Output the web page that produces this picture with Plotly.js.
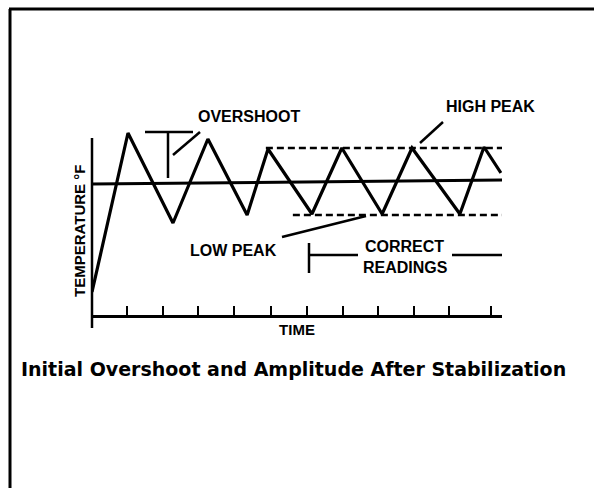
<!DOCTYPE html>
<html>
<head>
<meta charset="utf-8">
<script src="https://cdn.plot.ly/plotly-3.0.1.min.js"></script>
<style>html,body{margin:0;padding:0;background:#fff;}#chart{width:594px;height:488px;}</style>
</head>
<body>
<div id="chart"></div>
<script>
// ---- data (time in tick units, temperature in arbitrary degrees) ----
const timeValues = [0, 1.0, 2.25, 3.22, 4.31, 4.89, 6.11, 6.94, 8.06, 8.89, 10.22, 10.89, 11.36];
const tempValues = [23, 182, 92, 176, 100, 166, 101, 167, 101, 167, 101, 168, 142];
const setpointTime = [0, 11.39];
const setpointTemp = [131, 135];
const highPeakTime = [4.83, 11.39];
const highPeakTemp = [167, 167];
const lowPeakTime = [5.58, 11.39];
const lowPeakTemp = [100, 100];
const tickTimes = [0.97, 1.97, 2.94, 3.94, 4.97, 5.97, 6.97, 7.94, 8.94, 9.92, 11.08];
const xTitle = 'TIME';
const yTitle = 'TEMPERATURE °F';
const caption = 'Initial Overshoot and Amplitude After Stabilization';
const labels = ['OVERSHOOT', 'HIGH PEAK', 'LOW PEAK', 'CORRECT', 'READINGS'];

// ---- layout geometry ----
const W = 594, H = 488;
const L = 92, R = 502, T = 125, B = 315;
const PX = p => (p - L) / (R - L);
const PY = p => (B - p) / (B - T);
const ink = '#000';
const labelFont = {family: 'Liberation Sans, Arial, sans-serif', size: 16, color: ink};

const traces = [
  {x: setpointTime, y: setpointTemp, mode: 'lines', line: {color: ink, width: 3}, hoverinfo: 'skip'},
  {x: highPeakTime, y: highPeakTemp, mode: 'lines', line: {color: ink, width: 2.5, dash: '7px,4px'}, hoverinfo: 'skip'},
  {x: lowPeakTime, y: lowPeakTemp, mode: 'lines', line: {color: ink, width: 2.5, dash: '7px,4px'}, hoverinfo: 'skip'},
  {x: timeValues, y: tempValues, mode: 'lines', line: {color: ink, width: 3.2}, hoverinfo: 'skip'}
];

function seg(x0, y0, x1, y1, w) {
  return {type: 'line', xref: 'paper', yref: 'paper', x0: PX(x0), y0: PY(y0), x1: PX(x1), y1: PY(y1),
          line: {color: ink, width: w || 2.5}};
}

const shapes = [
  seg(9, 9, 594, 9, 3),          // frame top
  seg(10, 9, 10, 488, 3),        // frame left
  seg(92, 138, 92, 328, 2.5),    // y-axis line (extends below origin)
  seg(145, 132, 193, 132, 2.5),  // overshoot bar
  seg(168, 132, 168, 178, 2.5),  // overshoot vertical
  seg(200, 132, 173, 155, 2.5),  // overshoot leader
  seg(443, 122, 420, 143, 2.5),  // high peak leader
  seg(282, 237, 366, 216, 2.5),  // low peak leader
  seg(309, 243, 309, 273, 2.5),  // correct readings bracket
  seg(309, 255, 358, 255, 2.5),
  seg(452, 255, 502, 255, 2.5)
];

function ann(text, cx, cy, font, angle) {
  return {text: '<b>' + text + '</b>', xref: 'paper', yref: 'paper', x: PX(cx), y: PY(cy),
          xanchor: 'center', yanchor: 'middle', showarrow: false, font: font || labelFont,
          textangle: angle || 0};
}

const annotations = [
  ann(labels[0], 248.5, 116.5),
  ann(labels[1], 490.5, 106.5),
  ann(labels[2], 233, 250.5),
  ann(labels[3], 404, 246),
  ann(labels[4], 405.5, 267.5),
  ann(yTitle, 79, 231, Object.assign({}, labelFont, {size: 15}), -90),
  ann(caption, 293, 368.5, {family: 'DejaVu Sans, sans-serif', size: 19, color: ink})
];

const layout = {
  width: W, height: H,
  margin: {l: L, r: W - R, t: T, b: H - B, pad: 0},
  paper_bgcolor: '#fff', plot_bgcolor: '#fff',
  showlegend: false,
  xaxis: {
    range: [0, 11.39], showgrid: false, zeroline: false,
    showline: true, linecolor: ink, linewidth: 2.5,
    ticks: 'inside', ticklen: 9, tickwidth: 2, tickcolor: ink,
    tickmode: 'array', tickvals: tickTimes, showticklabels: false,
    title: {text: '<b>' + xTitle + '</b>', font: Object.assign({}, labelFont, {size: 15}), standoff: 8}
  },
  yaxis: {
    range: [0, B - T], showgrid: false, zeroline: false,
    showline: false, ticks: '', showticklabels: false
  },
  shapes: shapes,
  annotations: annotations
};

Plotly.newPlot('chart', traces, layout, {staticPlot: true, displayModeBar: false});
</script>
</body>
</html>
